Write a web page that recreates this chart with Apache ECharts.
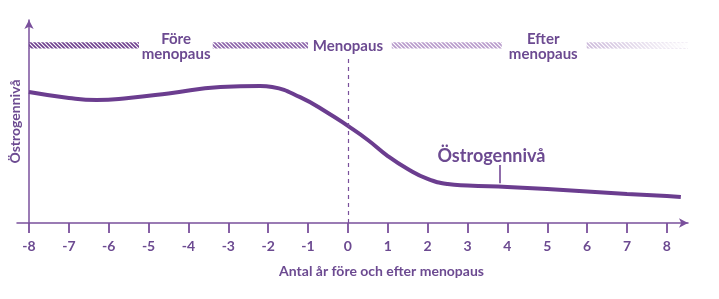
<!DOCTYPE html>
<html>
<head>
<meta charset="utf-8">
<script src="https://cdn.jsdelivr.net/npm/echarts@6/dist/echarts.min.js"></script>
<style>
  html, body { margin: 0; padding: 0; background: #fff; }
  #chart { width: 719px; height: 299px; }
</style>
</head>
<body>
<div id="chart"></div>
<script>
// kurvan: år relativt menopaus, östrogennivå (godtycklig skala 0-100)
var curveX = [-8, -7, -6.3, -5.5, -4.5, -3.2, -2.2, -1.9, -1.2, -0.5, 0, 0.5, 1, 1.5, 2, 2.5, 3, 4, 5, 6, 7, 8, 8.35];
var curveY = [64.5, 61.6, 60.6, 61.6, 63.8, 67, 67.5, 67, 62, 54.2, 47.8, 40.9, 33, 26.6, 21.7, 19.2, 18.5, 17.7, 16.7, 15.5, 14.3, 13.3, 12.8];

var tickValues = [-8, -7, -6, -5, -4, -3, -2, -1, 0, 1, 2, 3, 4, 5, 6, 7, 8];

// faserna överst
var phaseStart = [-8, -3.39, 1.1, 5.99];
var phaseEnd = [-5.24, -1.0, 3.86, 8.53];
var phaseLabels = ['Före\nmenopaus', 'Menopaus', 'Efter\nmenopaus'];
var phaseLabelX = [-4.31, 0, 4.9];

var purple = '#6b3d8f';
var textColor = '#6c4a91';
var phaseColors = ['#6e3f8e', '#8a61a9', '#b79acb', '#c6b1d6'];

function makeHatch(color) {
  var c = document.createElement('canvas');
  c.width = 4; c.height = 4;
  var ctx = c.getContext('2d');
  ctx.strokeStyle = color;
  ctx.lineWidth = 1.6;
  ctx.beginPath();
  ctx.moveTo(-1, -1); ctx.lineTo(5, 5);
  ctx.moveTo(-1, 3); ctx.lineTo(1, 5);
  ctx.moveTo(3, -1); ctx.lineTo(5, 1);
  ctx.stroke();
  return c;
}

var curveData = curveX.map(function (x, i) { return [x, curveY[i]]; });
var phaseData = phaseStart.map(function (s, i) { return [s, phaseEnd[i], i]; });
var labelData = phaseLabelX.map(function (x, i) { return [x, 87, phaseLabels[i]]; });

var chart = echarts.init(document.getElementById('chart'));

chart.setOption({
  animation: false,
  grid: { left: 17, right: 31, top: 20, bottom: 76, containLabel: false, outerBoundsMode: 'none' },
  xAxis: {
    type: 'value',
    min: -8.3,
    max: 8.53,
    name: 'Antal år före och efter menopaus',
    nameLocation: 'middle',
    nameGap: 41,
    nameTextStyle: { color: textColor, fontFamily: 'Lato', fontSize: 14, fontWeight: 'bold', padding: [0, 0, 0, 58] },
    axisLine: { show: true, onZero: false, lineStyle: { color: '#7a509c', width: 1.5 }, symbol: ['none', 'arrow'], symbolSize: [7, 9] },
    axisTick: { show: true, customValues: tickValues, length: 10, lineStyle: { color: '#7a509c', width: 1.8 } },
    axisLabel: { customValues: tickValues, color: textColor, fontFamily: 'Lato', fontSize: 14, fontWeight: 'bold', margin: 16 },
    splitLine: { show: false }
  },
  yAxis: {
    type: 'value',
    min: 0,
    max: 100,
    offset: -12,
    name: 'Östrogennivå',
    nameLocation: 'middle',
    nameRotate: 90,
    nameGap: 7,
    nameTextStyle: { color: textColor, fontFamily: 'Lato', fontSize: 14, fontWeight: 'bold' },
    axisLine: { show: true, onZero: false, lineStyle: { color: '#7a509c', width: 1.5 }, symbol: ['none', 'arrow'], symbolSize: [7, 9] },
    axisTick: { show: false },
    axisLabel: { show: false },
    splitLine: { show: false }
  },
  series: [
    {
      type: 'line',
      data: curveData,
      smooth: 0.5,
      symbol: 'none',
      lineStyle: { color: purple, width: 4 },
      z: 3,
      markLine: {
        silent: true,
        symbol: 'none',
        label: { show: false },
        data: [
          [{ coord: [0, 0], lineStyle: { type: [4, 4], color: '#7a509c', width: 1.2 } }, { coord: [0, 82] }],
          [{ coord: [3.81, 28.6], lineStyle: { type: 'solid', color: purple, width: 1.5 } }, { coord: [3.81, 19.6] }]
        ]
      },
      markPoint: {
        symbol: 'rect',
        symbolSize: 0,
        data: [{ coord: [3.6, 33], value: 0 }],
        label: {
          show: true,
          formatter: 'Östrogennivå',
          color: textColor,
          fontFamily: 'Lato',
          fontSize: 18,
          fontWeight: 'bold'
        }
      }
    },
    {
      type: 'custom',
      data: phaseData,
      silent: true,
      renderItem: function (params, api) {
        var p0 = api.coord([api.value(0), 89]);
        var p1 = api.coord([api.value(1), 86]);
        var idx = api.value(2);
        var rect = { x: p0[0], y: p0[1], width: p1[0] - p0[0], height: p1[1] - p0[1] };
        var children = [{
          type: 'rect',
          shape: rect,
          style: { fill: { image: makeHatch(phaseColors[idx]), repeat: 'repeat' } }
        }];
        if (idx === 3) {
          children.push({
            type: 'rect',
            shape: rect,
            style: {
              fill: new echarts.graphic.LinearGradient(0, 0, 1, 0, [
                { offset: 0, color: 'rgba(255,255,255,0.1)' },
                { offset: 1, color: 'rgba(255,255,255,1)' }
              ])
            }
          });
        }
        return { type: 'group', children: children };
      }
    },
    {
      type: 'custom',
      data: labelData,
      silent: true,
      renderItem: function (params, api) {
        var p = api.coord([api.value(0), api.value(1)]);
        return {
          type: 'text',
          style: {
            x: p[0],
            y: p[1],
            text: labelData[params.dataIndex][2],
            fill: textColor,
            font: 'bold 15px Lato',
            align: 'center',
            verticalAlign: 'middle',
            lineHeight: 15
          }
        };
      }
    }
  ]
});
</script>
</body>
</html>
